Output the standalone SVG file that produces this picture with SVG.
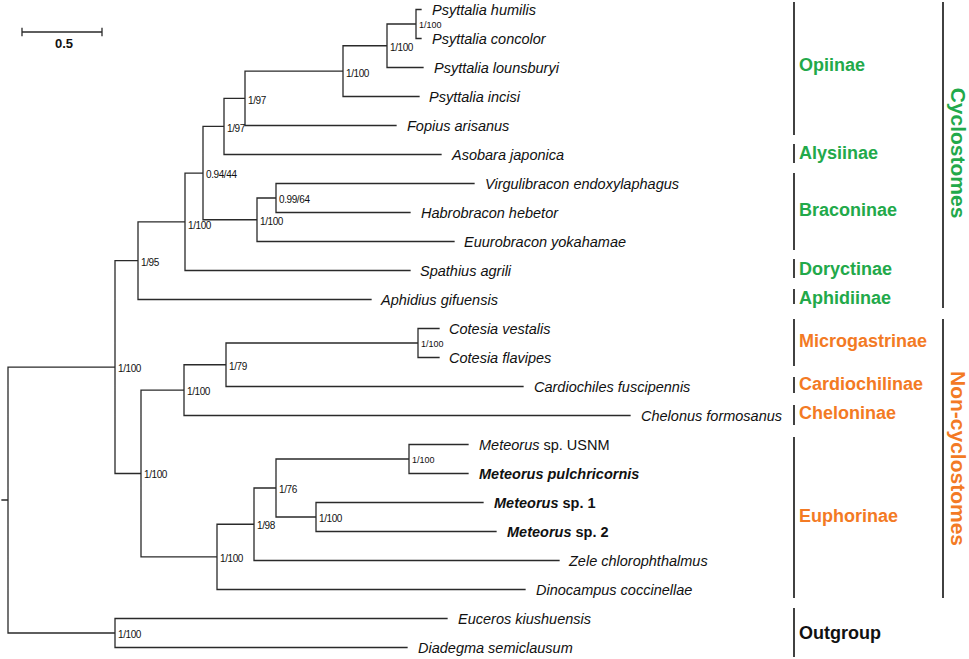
<svg xmlns="http://www.w3.org/2000/svg" width="969" height="659" viewBox="0 0 969 659">
<style>
  .br { fill: none; stroke: #2a2a2a; stroke-width: 1.3; stroke-linecap: square; }
  .tx { font-family: "Liberation Sans", Arial, Helvetica, sans-serif; font-size: 14.5px; font-style: italic; fill: #111; }
  .b { font-weight: bold; }
  .up { font-style: normal; }
  .nl { font-family: "Liberation Sans", Arial, Helvetica, sans-serif; font-size: 10px; letter-spacing: -0.4px; fill: #111; }
  .ns { font-family: "Liberation Sans", Arial, Helvetica, sans-serif; font-size: 9px; fill: #111; }
  .bar { stroke: #111; stroke-width: 1.6; fill: none; }
  .sf { font-family: "Liberation Sans", Arial, Helvetica, sans-serif; font-size: 18px; font-weight: bold; }
  .grp { font-family: "Liberation Sans", Arial, Helvetica, sans-serif; font-size: 21px; font-weight: bold; text-anchor: middle; }
  .g { fill: #22a94a; }
  .o { fill: #f37a24; }
  .k { fill: #111; }
</style>
<rect width="969" height="659" fill="#fff"/>

<g id="scale-bar">
  <path class="br" d="M22 32 H102 M22 28.5 V35.5 M102 28.5 V35.5"/>
  <text x="64" y="48" text-anchor="middle" font-family="Liberation Sans, Arial, sans-serif" font-size="13" font-weight="bold" fill="#111">0.5</text>
</g>

<g id="connectors">
  <path class="br" d="
  M416 9.5 V38.5 M387 24 V67.5 M343 45.75 V96.5 M245 71.1 V125.5 M224 98.3 V154.5
  M276 183.5 V212.5 M257 198 V241.5 M203 126.4 V219.75 M185 173.1 V270.5 M138 221.8 V299.5
  M418 328.5 V357.5 M226 343 V386.5 M184 364.75 V415.5 M409 444.5 V473.5 M316 502.5 V531.5
  M276 459 V517 M254 488 V560.5 M217 524.25 V589.5 M141 390.1 V556.9 M115 260.65 V473.5
  M115 618.5 V647.5 M8 367.1 V633
  M416 9.5 H421 M416 38.5 H421 M387 24 H416 M387 67.5 H423 M343 45.75 H387 M343 96.5 H419
  M245 71.1 H343 M245 125.5 H396 M224 98.3 H245 M224 154.5 H441 M203 126.4 H224
  M276 183.5 H474 M276 212.5 H410 M257 198 H276 M257 241.5 H454 M203 219.75 H257
  M185 173.1 H203 M185 270.5 H410 M138 221.8 H185 M138 299.5 H371 M115 260.65 H138
  M418 328.5 H439 M418 357.5 H439 M226 343 H418 M226 386.5 H523 M184 364.75 H226
  M184 415.5 H630 M141 390.1 H184 M409 444.5 H468 M409 473.5 H468 M276 459 H409
  M316 502.5 H483 M316 531.5 H496 M276 517 H316 M254 488 H276 M254 560.5 H559
  M217 524.25 H254 M217 589.5 H525 M141 556.9 H217 M115 473.5 H141 M8 367.1 H115
  M115 618.5 H447 M115 647.5 H407 M8 633 H115 M2 500 H8"/>
</g>

<g id="taxa">
  <g id="t-psyttalia-humilis"><text class="tx" x="432" y="14.5">Psyttalia humilis</text></g>
  <g id="t-psyttalia-concolor"><text class="tx" x="432" y="43.5">Psyttalia concolor</text></g>
  <g id="t-psyttalia-lounsburyi"><text class="tx" x="434" y="72.5">Psyttalia lounsburyi</text></g>
  <g id="t-psyttalia-incisi"><text class="tx" x="429" y="101.5">Psyttalia incisi</text></g>
  <g id="t-fopius-arisanus"><text class="tx" x="407" y="130.5">Fopius arisanus</text></g>
  <g id="t-asobara-japonica"><text class="tx" x="452" y="159.5">Asobara japonica</text></g>
  <g id="t-virgulibracon"><text class="tx" x="485" y="188.5">Virgulibracon endoxylaphagus</text></g>
  <g id="t-habrobracon"><text class="tx" x="421" y="217.5">Habrobracon hebetor</text></g>
  <g id="t-euurobracon"><text class="tx" x="464" y="246.5">Euurobracon yokahamae</text></g>
  <g id="t-spathius"><text class="tx" x="420" y="275.5">Spathius agrili</text></g>
  <g id="t-aphidius"><text class="tx" x="381" y="304.5">Aphidius gifuensis</text></g>
  <g id="t-cotesia-vestalis"><text class="tx" x="449" y="333.5">Cotesia vestalis</text></g>
  <g id="t-cotesia-flavipes"><text class="tx" x="449" y="362.5">Cotesia flavipes</text></g>
  <g id="t-cardiochiles"><text class="tx" x="534" y="391.5">Cardiochiles fuscipennis</text></g>
  <g id="t-chelonus"><text class="tx" x="641" y="420.5">Chelonus formosanus</text></g>
  <g id="t-meteorus-usnm"><text class="tx" x="479" y="449.5">Meteorus<tspan class="up"> sp. USNM</tspan></text></g>
  <g id="t-meteorus-pulchricornis"><text class="tx b" x="479" y="478.5">Meteorus pulchricornis</text></g>
  <g id="t-meteorus-sp1"><text class="tx b" x="494" y="507.5">Meteorus<tspan class="up"> sp. 1</tspan></text></g>
  <g id="t-meteorus-sp2"><text class="tx b" x="507" y="536.5">Meteorus<tspan class="up"> sp. 2</tspan></text></g>
  <g id="t-zele"><text class="tx" x="569" y="565.5">Zele chlorophthalmus</text></g>
  <g id="t-dinocampus"><text class="tx" x="536" y="594.5">Dinocampus coccinellae</text></g>
  <g id="t-euceros"><text class="tx" x="458" y="623.5">Euceros kiushuensis</text></g>
  <g id="t-diadegma"><text class="tx" x="418" y="652.5">Diadegma semiclausum</text></g>
</g>

<g id="support">
  <g id="n-psyttalia-pair"><text class="ns" x="419" y="28">1/100</text></g>
  <g id="n-psyttalia-3"><text class="nl" x="390" y="51">1/100</text></g>
  <g id="n-opiinae"><text class="nl" x="346" y="76.5">1/100</text></g>
  <g id="n-fopius"><text class="nl" x="248" y="103.5">1/97</text></g>
  <g id="n-asobara"><text class="nl" x="227" y="131.5">1/97</text></g>
  <g id="n-cyclo-core"><text class="nl" x="206" y="178">0.94/44</text></g>
  <g id="n-virg-hab"><text class="nl" x="279" y="203">0.99/64</text></g>
  <g id="n-braconinae"><text class="nl" x="260" y="224.5">1/100</text></g>
  <g id="n-spathius"><text class="nl" x="188" y="229">1/100</text></g>
  <g id="n-cyclostomes"><text class="nl" x="141" y="265.5">1/95</text></g>
  <g id="n-ingroup"><text class="nl" x="118" y="372">1/100</text></g>
  <g id="n-cotesia"><text class="ns" x="421" y="346.5">1/100</text></g>
  <g id="n-cardiochiles"><text class="nl" x="229" y="369.5">1/79</text></g>
  <g id="n-chelonus"><text class="nl" x="187" y="395">1/100</text></g>
  <g id="n-noncyclostomes"><text class="nl" x="144" y="478">1/100</text></g>
  <g id="n-meteorus-pair"><text class="ns" x="412" y="463">1/100</text></g>
  <g id="n-meteorus-sp"><text class="nl" x="319" y="521.5">1/100</text></g>
  <g id="n-meteorus"><text class="nl" x="279" y="492.5">1/76</text></g>
  <g id="n-zele"><text class="nl" x="257" y="529">1/98</text></g>
  <g id="n-euphorinae"><text class="nl" x="220" y="561.5">1/100</text></g>
  <g id="n-outgroup"><text class="nl" x="118" y="637.5">1/100</text></g>
</g>

<g id="subfamilies">
  <g id="sf-opiinae"><path class="bar" d="M794 2 V135"/><text class="sf g" x="799" y="71">Opiinae</text></g>
  <g id="sf-alysiinae"><path class="bar" d="M794 144 V163"/><text class="sf g" x="799" y="158.5">Alysiinae</text></g>
  <g id="sf-braconinae"><path class="bar" d="M794 173 V250"/><text class="sf g" x="799" y="215.5">Braconinae</text></g>
  <g id="sf-doryctinae"><path class="bar" d="M794 259 V278"/><text class="sf g" x="799" y="274.5">Doryctinae</text></g>
  <g id="sf-aphidiinae"><path class="bar" d="M794 289 V304"/><text class="sf g" x="799" y="303.5">Aphidiinae</text></g>
  <g id="sf-microgastrinae"><path class="bar" d="M794 319 V366"/><text class="sf o" x="799" y="346.5">Microgastrinae</text></g>
  <g id="sf-cardiochilinae"><path class="bar" d="M794 377 V393"/><text class="sf o" x="799" y="389.5">Cardiochilinae</text></g>
  <g id="sf-cheloninae"><path class="bar" d="M794 405 V425"/><text class="sf o" x="799" y="419">Cheloninae</text></g>
  <g id="sf-euphorinae"><path class="bar" d="M794 437 V598"/><text class="sf o" x="799" y="521.5">Euphorinae</text></g>
  <g id="sf-outgroup"><path class="bar" d="M794 608 V657"/><text class="sf k" x="799" y="638.5">Outgroup</text></g>
</g>

<g id="groups">
  <g id="grp-cyclostomes"><path class="bar" d="M943 2 V308"/><text class="grp g" transform="translate(950.5 153) rotate(90)" x="0" y="0">Cyclostomes</text></g>
  <g id="grp-noncyclostomes"><path class="bar" d="M943 319 V598"/><text class="grp o" transform="translate(950.5 458.5) rotate(90)" x="0" y="0">Non-cyclostomes</text></g>
</g>
</svg>
